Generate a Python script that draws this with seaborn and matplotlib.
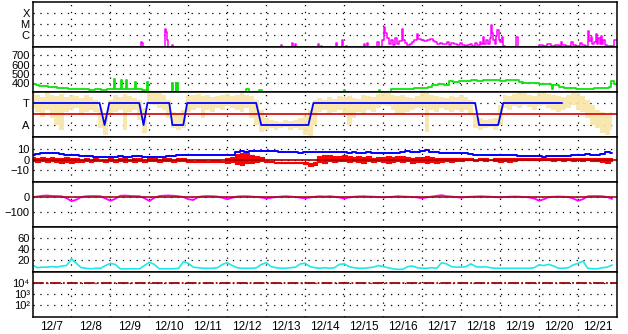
import numpy as np
import pandas as pd
import matplotlib
matplotlib.use("Agg")
import matplotlib.pyplot as plt
import seaborn as sns

# ---------------- data ----------------
day_labels = ['12/7', '12/8', '12/9', '12/10', '12/11', '12/12', '12/13', '12/14',
              '12/15', '12/16', '12/17', '12/18', '12/19', '12/20', '12/21']

# X-ray flux (W/m2), irregular times in days since 12/7 00:00
xray_day = [0.00, 2.78, 2.81, 2.84, 3.40, 3.43, 3.46, 3.49, 3.58, 3.61, 6.37, 6.40, 6.66, 6.69,
            6.74, 6.77, 7.33, 7.36, 7.41, 7.44, 7.79, 7.82, 7.95, 7.98, 8.05, 8.08, 8.51, 8.54,
            8.59, 8.62, 8.85, 8.88, 8.97, 9.01, 9.05, 9.10, 9.15, 9.20, 9.26, 9.31, 9.36, 9.41,
            9.48, 9.52, 9.57, 9.62, 9.68, 9.74, 9.80, 9.86, 9.90, 9.96, 10.04, 10.12, 10.20,
            10.27, 10.33, 10.39, 10.45, 10.51, 10.58, 10.64, 10.69, 10.75, 10.82, 10.89, 10.96,
            11.03, 11.10, 11.16, 11.23, 11.29, 11.35, 11.42, 11.48, 11.52, 11.55, 11.59, 11.64,
            11.70, 11.73, 11.76, 11.79, 11.82, 11.86, 11.90, 11.93, 11.96, 12.00, 12.04, 12.08,
            12.13, 12.42, 12.45, 13.00, 13.10, 13.20, 13.30, 13.40, 13.50, 13.57, 13.60, 13.70,
            13.83, 13.86, 13.95, 14.06, 14.09, 14.18, 14.25, 14.28, 14.32, 14.35, 14.40, 14.45,
            14.48, 14.52, 14.56, 14.58, 14.61, 14.64, 14.68, 14.75, 14.85, 14.92, 15.00]
xray_flux = [5e-8, 2.3e-7, 1.9e-7, 5e-8, 3.5e-6, 1.9e-6, 3.5e-7, 5e-8, 1.2e-7, 5e-8, 1.2e-7, 5e-8,
             1.9e-7, 5e-8, 1.5e-7, 5e-8, 1.5e-7, 5e-8, 1e-7, 5e-8, 1.9e-7, 5e-8, 3.5e-7, 5e-8,
             1e-7, 5e-8, 1.5e-7, 5e-8, 1.9e-7, 5e-8, 2.3e-7, 5e-8, 3.5e-7, 5.3e-6, 1.5e-6, 5.3e-7,
             1.5e-7, 3.5e-7, 1.2e-7, 5.3e-7, 1.5e-7, 2.8e-7, 3.5e-6, 3.5e-7, 1.9e-7, 1.2e-7,
             1.5e-7, 2.3e-7, 3.5e-7, 1.2e-6, 4.3e-7, 3.5e-7, 2.8e-7, 3.5e-7, 4.3e-7, 2.8e-7,
             2.3e-7, 1.5e-7, 1.9e-7, 1.5e-7, 1.5e-7, 2.3e-7, 1.2e-7, 1.9e-7, 1.5e-7, 1.2e-7,
             1.9e-7, 1.2e-7, 1e-7, 1.2e-7, 1.5e-7, 1e-7, 1.9e-7, 1.2e-7, 2.3e-7, 1.5e-7, 6.6e-7,
             1.5e-7, 3.5e-7, 1.5e-7, 5.3e-7, 8.1e-6, 1.5e-6, 3.5e-7, 1.5e-7, 8.1e-7, 2.8e-6,
             3.5e-7, 2.3e-7, 6.6e-7, 1e-7, 5e-8, 6.6e-7, 5e-8, 1.2e-7, 1e-7, 1.5e-7, 1e-7,
             1.2e-7, 1e-7, 2.3e-7, 1.2e-7, 1e-7, 2.3e-7, 1.2e-7, 1e-7, 1.9e-7, 1.2e-7, 1e-7,
             2.3e-6, 2.8e-7, 6.6e-7, 1.5e-7, 2.3e-7, 1.2e-6, 1.5e-7, 5.3e-7, 1.5e-7, 8.1e-7,
             1.5e-7, 3.5e-7, 1.2e-7, 1e-7, 1e-7, 3.5e-7, 3.5e-7]

# solar wind speed (km/s), irregular times
speed_day = [0.00, 0.08, 0.16, 0.24, 0.32, 0.40, 0.48, 0.56, 0.64, 0.72, 0.80, 0.90, 1.00, 1.15,
             1.30, 1.45, 1.60, 1.75, 1.90, 2.00, 2.10, 2.12, 2.20, 2.28, 2.30, 2.36, 2.41, 2.43,
             2.50, 2.64, 2.66, 2.80, 2.95, 2.97, 3.59, 3.61, 3.67, 3.69, 3.72, 3.74, 5.47, 5.55,
             5.82, 5.88, 7.99, 8.03, 8.88, 8.92, 9.20, 9.40, 9.60, 9.80, 10.00, 10.15,
             10.26, 10.40, 10.55, 10.69, 10.80, 10.95, 11.10, 11.25, 11.40, 11.55, 11.70, 11.85,
             12.00, 12.15, 12.30, 12.40, 12.49, 12.60, 12.75, 12.90, 13.00, 13.15, 13.30, 13.33,
             13.35, 13.51, 13.65, 13.80, 13.95, 14.03, 14.20, 14.35, 14.41, 14.55, 14.70, 14.79,
             14.85, 14.92, 15.00]
speed_kms = [385, 378, 372, 368, 362, 360, 355, 352, 350, 348, 345, 340, 335, 332,
             330, 328, 330, 328, 330, 332, 443, 332, 335, 432, 338, 335, 432, 335,
             332, 410, 330, 328, 410, 250, 400, 250, 400, 250, 400, 250, 330, 250,
             320, 250, 325, 250, 325, 250, 330, 332, 335, 345, 350, 355,
             380, 388, 380, 420, 415, 425, 420, 430, 425, 432, 428, 435,
             425, 430, 438, 430, 410, 405, 400, 400, 390, 385, 382, 330,
             380, 355, 350, 348, 340, 332, 330, 335, 345, 348, 350, 360,
             421, 390, 380]

# IMF sector (T = 11, A = -11 on this panel's scale)
sector_day = [0.00, 1.72, 1.85, 1.97, 2.74, 2.85, 2.95, 3.51, 3.59, 3.87, 3.97, 5.74, 5.87,
              7.08, 7.21, 11.36, 11.46, 11.95, 12.08, 13.59]
sector_val = [11, 11, -11, 11, 11, -11, 11, 11, -11, -11, 11, 11, -11,
              -11, 11, 11, -11, -11, 11, 11]

# IMF angle scatter, 3-hour bins: upper / lower envelope
phi_hi = [21, 19, 17, 22, 19, 18, 20, 17,  19, 18, 16, 19, 17, 14, 6, -1,
          14, 19, 17, 20, 18, 16, 14, 6,   22, 22, 21, 19, 14, 2, 1, 4,
          18, 19, 20, 18, 19, 17, 18, 19,  20, 18, 19, 21, 19, 18, 14, 4,
          -4, -6, -7, -8, -6, -7, -6, -4,  -2, 4, 14, 16, 14, 17, 15, 18,
          17, 18, 16, 15, 19, 18, 17, 20,  22, 21, 19, 18, 19, 17, 16, 18,
          22, 21, 19, 18, 17, 16, 18, 17,  19, 17, 14, -1, -4, -6, -5, -4,
          9, 19, 18, 20, 22, 21, 19, 18,   21, 22, 20, 19, 18, 17, 19, 22,
          21, 18, 14, 9, 4, 2, -1, 2]
phi_lo = [6, 2, -3, 4, -4, -11, -16, 2,    4, 6, -1, 2, 4, 2, -14, -21,
          -1, 2, 4, -16, 2, 4, -6, -19,    10, 9, 6, 4, -4, -14, -16, -14,
          2, 4, 6, -4, 4, 2, 6, 4,         8, 6, 4, 2, 6, -4, -11, -18,
          -16, -14, -16, -14, -13, -16, -14, -16,  -21, -22, -11, 2, 4, 1, 2, 4,
          1, -11, -4, 2, -1, 4, 2, 6,      9, 8, 4, 0, -1, 2, 4, 6,
          6, -18, 4, 2, 6, 4, 2, 4,        2, 4, -1, -14, -16, -14, -13, -16,
          -11, 6, 4, 8, 6, 9, 7, 4,        8, 9, 6, 4, 2, 4, 6, 9,
          4, 2, -4, -11, -14, -19, -21, -16]

# IMF Bt (nT), 3-hour bins
bt_nt = [4.5, 5, 5.5, 6, 6, 5.5, 5, 4.5,   4, 4, 3.5, 3, 3, 2.5, 2.5, 2.5,
         2.5, 2.5, 3, 2.5, 2.5, 3, 3, 2.5, 2.5, 2.5, 2.5, 2.5, 3, 3.5, 4, 4,
         4, 4.5, 4, 4, 4.5, 4, 4.5, 4,     4, 4.5, 7, 7.5, 7, 7.5, 7.5, 7.5,
         7.5, 7.5, 7.5, 7, 7, 7, 6.5, 6,   6.5, 7, 7, 7, 6.5, 7, 7, 6.5,
         6.5, 6, 6.5, 6, 6, 6.5, 6, 5.5,   5.5, 5.5, 5.5, 6, 7, 7.5, 7, 7,
         7.5, 8.5, 7, 7, 6, 5.5, 5.5, 5.5, 5.5, 5.5, 5, 4.5, 4, 4, 4, 4,
         4, 4, 4, 4, 3.5, 3.5, 3, 3,       3, 2.5, 3, 3.5, 3, 3, 3.5, 4,
         4, 4.5, 5, 4, 4.5, 5, 7, 5.5]
# IMF Bz (nT), 3-hour bins: upper / lower envelope
bz_hi = [2, 1, 2, 1, 2, 1, 1, 2,  1, 1, 0, 1, 0, 1, 0, 0,  1, 0, 1, 2, 0, 1, 1, 0,
         1, 1, 0, 1, 1, 0, 1, 1,  0, -1, 0, 0, -1, 0, 0, -1,  1, 2, 5, 6, 6, 4, 3, 2,
         -1, -1, -2, -2, -2, -2, -2, -2,  -2, -3, -2, 3, 4, 4, 3, 3,
         4, 3, 2, 3, 2, 3, 1, 2,  2, 3, 2, 3, 3, 2, 1, 2,  2, 3, 2, 1, 1, 1, 1, 1,
         1, 1, 1, 0, 1, 1, 0, 1,  1, 1, 1, 1, 1, 1, 1, 1,  1, 1, 1, 1, 1, 1, 1, 1,
         1, 1, 1, 1, 1, 1, 1, 1]
bz_lo = [-1, -2, -1, -2, -1, -2, -3, -2,  -3, -2, -2, -1, -2, -1, -1, -2,
         -1, -2, -1, -2, -1, -2, -1, -2,  -1, -1, -2, -1, -1, -2, -1, -1,
         -2, -2, -2, -2, -2, -2, -2, -2,  -3, -2, -4, -5, -3, -3, -2, -1,
         -2, -2, -3, -3, -3, -3, -3, -3,  -4, -6, -5, -2, -3, -1, -2, -1,
         -1, -2, -1, -2, -3, -1, -2, -1,  -2, -3, -2, -1, -2, -1, -3, -2,
         -2, -3, -2, -3, -2, -1, -2, -1,  -1, 0, 0, -1, 0, -1, 0, -1,
         -2, -1, -2, -1, 0, 0, 0, 0,  0, 0, 0, -1, 0, -1, 0, -1,
         0, -1, 0, -1, -1, -2, -3, -1]

# Dst (nT), 3-hour bins
dst_nt = [0, 3, 8, 10, 7, 6, 5, -8,     -28, -18, 0, 5, 6, 6, 5, -10,
          -25, -12, 8, 10, 7, 6, 5, -8,  -27, -5, 6, 9, 10, 8, 5, 0,
          -15, -20, 0, 5, 6, 5, 3, -5,   -15, -5, 3, 5, 5, 3, 0, -3,
          -10, -5, 0, 3, 5, 3, 0, -5,    -8, -3, 2, 5, 3, 5, 2, -3,
          -10, -3, 2, 4, 5, 3, 2, 0,     -3, 0, 2, 5, 3, 2, 0, -3,
          -8, -2, 3, 8, 12, 5, 3, 0,     -5, 0, 2, 3, 5, 3, 2, 0,
          -3, 0, 2, 3, 2, 0, -3, -10,    -25, -15, 0, 2, 3, 2, 0, -10,
          -25, -15, 5, 6, 6, 5, 0, -13]

# cyan index, 3-hour bins
idx_val = [11, 6, 7, 7, 8, 7, 9, 10,   22, 14, 6, 5, 4, 5, 5, 10,
           14, 12, 4, 4, 4, 4, 4, 10,   16, 12, 4, 4, 4, 4, 5, 17,
           14, 7, 6, 5, 5, 5, 6, 12,    15, 10, 6, 5, 5, 5, 6, 12,
           15, 8, 6, 5, 5, 6, 7, 13,    14, 8, 6, 5, 6, 5, 6, 12,
           13, 8, 6, 5, 5, 6, 7, 10,    8, 6, 4, 3, 3, 8, 9, 6,
           5, 5, 6, 5, 15, 13, 8, 7,    7, 8, 13, 8, 7, 8, 6, 5,
           5, 5, 5, 5, 5, 5, 5, 6,      11, 10, 12, 9, 5, 5, 6, 11,
           14, 18, 5, 4, 4, 6, 7, 11]

proton_threshold = 1e4
proton_labels = ['10\u2074', '10\u00b3', '10\u00b2']

# ---------------- styling ----------------
sns.set_theme(style="white")
plt.rcParams['font.family'] = ['Liberation Sans', 'DejaVu Sans']

W, H = 628, 334
fig = plt.figure(figsize=(W / 100, H / 100), dpi=100)
fig.patch.set_facecolor('white')
left, right, top, bottom = 32.5 / W, 617 / W, 1 - 2 / H, 1 - 317 / H
gs = fig.add_gridspec(7, 1, left=left, right=right, top=top, bottom=bottom, hspace=0)
axes = [fig.add_subplot(gs[i]) for i in range(7)]
for a in axes[1:]:
    a.sharex(axes[0])

dots = (0, (1, 4.5))
FS = 8.0

t3 = np.arange(120) / 8.0

# panel 1: X-ray
ax = axes[0]
ax.set_yscale('log')
sns.lineplot(x=xray_day, y=xray_flux, ax=ax, color='#ff00ff', lw=1.1,
             drawstyle='steps-post', estimator=None, sort=False)
ax.set_ylim(10 ** -7.1, 1e-3)
ax.set_yticks([1e-4, 1e-5, 1e-6])
ax.set_yticklabels(['X', 'M', 'C'])
ax.minorticks_off()

# panel 2: speed
ax = axes[1]
sns.lineplot(x=speed_day, y=speed_kms, ax=ax, color='#10e010', lw=1.3,
             drawstyle='steps-post', estimator=None, sort=False)
ax.set_ylim(302, 792)
ax.set_yticks([700, 600, 500, 400])

# panel 3: sector
ax = axes[2]
ax.fill_between(t3, phi_lo, phi_hi, step='mid', color='#f8e6a6', lw=0, alpha=0.9)
ax.axhline(0, color='#d00000', lw=1.2)
sns.lineplot(x=sector_day, y=sector_val, ax=ax, color='#0000ff', lw=1.3,
             estimator=None, sort=False)
ax.set_ylim(-23, 22)
ax.set_yticks([11, -11])
ax.set_yticklabels(['T', 'A'])

# panel 4: IMF
ax = axes[3]
sns.lineplot(x=t3, y=bt_nt, ax=ax, color='#0000ff', lw=1.4, drawstyle='steps-mid',
             estimator=None, sort=False)
ax.fill_between(t3, bz_lo, bz_hi, step='mid', color='#ff0000', lw=0.8, edgecolor='#ff0000')
ax.axhline(0, color='#a00000', lw=1.2)
ax.set_ylim(-20.5, 20.5)
ax.set_yticks([10, 0, -10])

# panel 5: Dst
ax = axes[4]
sns.lineplot(x=t3, y=dst_nt, ax=ax, color='#ff00ff', lw=1.3, estimator=None, sort=False)
ax.axhline(0, color='#a01010', lw=1.2)
ax.set_ylim(-200, 100)
ax.set_yticks([0, -100])

# panel 6: cyan index
ax = axes[5]
sns.lineplot(x=t3, y=idx_val, ax=ax, color='#20e8e8', lw=1.2, estimator=None, sort=False)
ax.set_ylim(-1.8, 80)
ax.set_yticks([60, 40, 20])

# panel 7: protons
ax = axes[6]
ax.set_yscale('log')
ax.axhline(proton_threshold, color='#a00000', lw=1.3, ls=(0, (6, 1.2, 1, 1.2)))
ax.set_ylim(10 ** 0.91, 1e5)
ax.set_yticks([1e4, 1e3, 1e2])
ax.set_yticklabels(proton_labels)
ax.minorticks_off()

for i, ax in enumerate(axes):
    ax.set_facecolor('white')
    ax.set_xlim(0, 15)
    ax.set_xlabel('')
    ax.set_ylabel('')
    ax.set_xticks(np.arange(15) + 0.5)
    ax.set_xticks(np.arange(1, 15), minor=True)
    ax.grid(False)
    ax.grid(True, which='minor', axis='x', color='black', lw=0.9, ls=dots)
    ax.grid(True, which='major', axis='y', color='black', lw=0.9, ls=dots)
    ax.set_axisbelow(True)
    ax.tick_params(axis='both', which='both', length=0, labelsize=FS, colors='black', pad=2)
    ax.tick_params(axis='x', pad=3, labelsize=FS + 0.5)
    for s in ax.spines.values():
        s.set_visible(True)
        s.set_color('black')
        s.set_linewidth(1.1)
    if i < 6:
        ax.tick_params(axis='x', labelbottom=False)
    else:
        ax.set_xticklabels(day_labels)
    if ax.get_legend():
        ax.get_legend().remove()

fig.savefig('out.png', dpi=100, facecolor='white')
